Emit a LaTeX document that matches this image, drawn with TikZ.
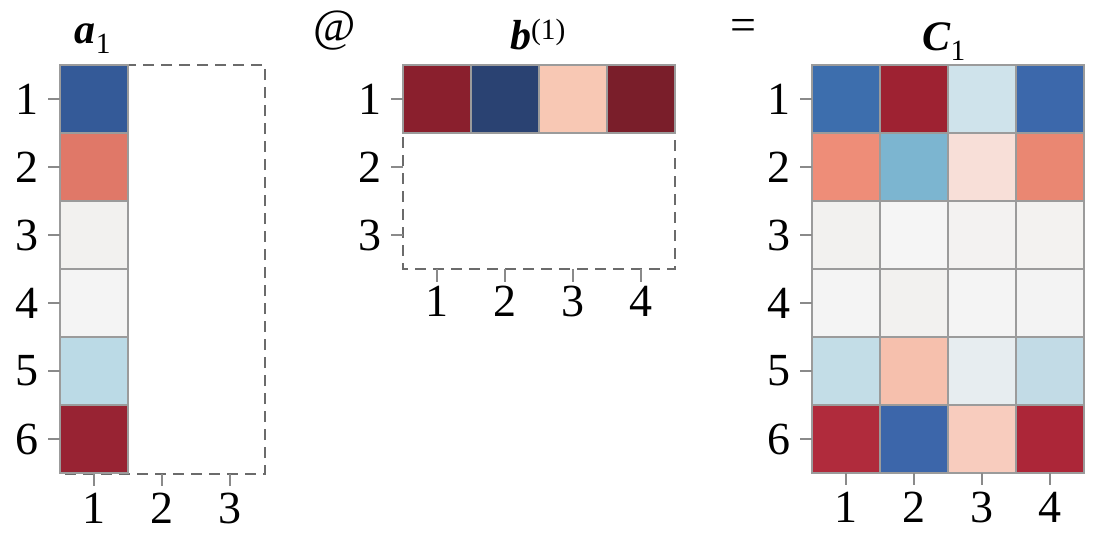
\documentclass[tikz,border=0pt]{standalone}
\usepackage{fontspec}
\setmainfont{Liberation Serif}
\usetikzlibrary{positioning}
\definecolor{cellgrey}{HTML}{9B9B9B}
\definecolor{padgrey}{HTML}{6B6B6B}
\definecolor{tickgrey}{HTML}{8A8A8A}
\newcommand{\mat}[1]{\textbf{\textit{#1}}}
\tikzset{
	cell/.style={draw=cellgrey, line width=1.4pt, minimum size=68pt, inner sep=0pt, outer sep=0pt},
	pad/.style={draw=padgrey, line width=1.8pt, dash pattern=on 11pt off 7pt},
	tick/.style={draw=tickgrey, line width=1.4pt},
	lab/.style={font=\fontsize{46}{54}\selectfont, inner sep=0pt},
	ttl/.style={font=\fontsize{42}{50}\selectfont, inner sep=0pt, anchor=base},
}

\begin{document}
\begin{tikzpicture}[x=1pt, y=-1pt]
		\useasboundingbox (0,0) rectangle (1100,542);
		% titles
		\node (ta) [ttl] at (93,43)  {\mat{a}\textsubscript{1}};
		\node (at) [lab] at (335,31) {@};
		\node (tb) [ttl] at (538,49) {\mat{b}\textsuperscript{(1)}};
		\node (eq) [lab] at (743,30) {=};
		\node (tc) [ttl] at (944,50) {\mat{C}\textsubscript{1}};
		% padding boxes
		\draw[pad] (60,65) rectangle (265,474);
		\draw[pad] (403,65) rectangle (675,269);
		% a_1
		\foreach \c [count=\i] in {345A98,E07868,F2F1EF,F4F4F4,BBDAE6,982333} {
			\definecolor{tmp}{HTML}{\c}
			\node (a\i) [cell, fill=tmp] at (94,31+68*\i) {};
			\coordinate (al\i) at ([xshift=-12pt]a\i.west);
			\draw[tick] (al\i) -- (a\i.west);
			\node [lab, left=9pt of al\i] {\i};
		}
		\foreach \j in {1,2,3} {
			\coordinate (ab\j) at (26+68*\j,474);
			\draw[tick] (ab\j) -- ([yshift=-12pt]ab\j);
			\node [lab, below=19pt of ab\j] {\j};
		}
		% b^(1)
		\foreach \c [count=\j] in {8A1F2D,2A4272,F8C8B4,7A1E2A} {
			\definecolor{tmp}{HTML}{\c}
			\node (b\j) [cell, fill=tmp] at (369+68*\j,99) {};
			\coordinate (bb\j) at (369+68*\j,269);
			\draw[tick] (bb\j) -- ([yshift=-13pt]bb\j);
			\node [lab, below=17pt of bb\j] {\j};
		}
		\foreach \i in {1,2,3} {
			\coordinate (bl\i) at (391,31+68*\i);
			\draw[tick] (bl\i) -- ++(12,0);
			\node [lab, left=9pt of bl\i] {\i};
		}
		% C_1
		\foreach \r [count=\i] in {
			{3D6EAD,9E2232,CFE3EB,3C68AB},
			{EE8D78,7CB5D0,F8DFD8,EA8772},
			{F2F1EF,F5F5F5,F3F2F1,F3F2F0},
			{F4F4F4,F2F1EF,F4F4F4,F3F3F3},
			{C3DDE7,F6C0AD,E7EDF0,C2DBE6},
			{B02B3C,3C66AA,F8CCBE,AC2638}} {
			\foreach \c [count=\j] in \r {
				\definecolor{tmp}{HTML}{\c}
				\node (c\i\j) [cell, fill=tmp] at (778+68*\j,31+68*\i) {};
			}
			\coordinate (cl\i) at ([xshift=-12pt]c\i1.west);
			\draw[tick] (cl\i) -- (c\i1.west);
			\node [lab, left=9pt of cl\i] {\i};
		}
		\foreach \j in {1,...,4} {
			\draw[tick] (c6\j.south) -- ([yshift=-12pt]c6\j.south);
			\node [lab, below=19pt of c6\j.south] {\j};
		}
\end{tikzpicture}
\end{document}
